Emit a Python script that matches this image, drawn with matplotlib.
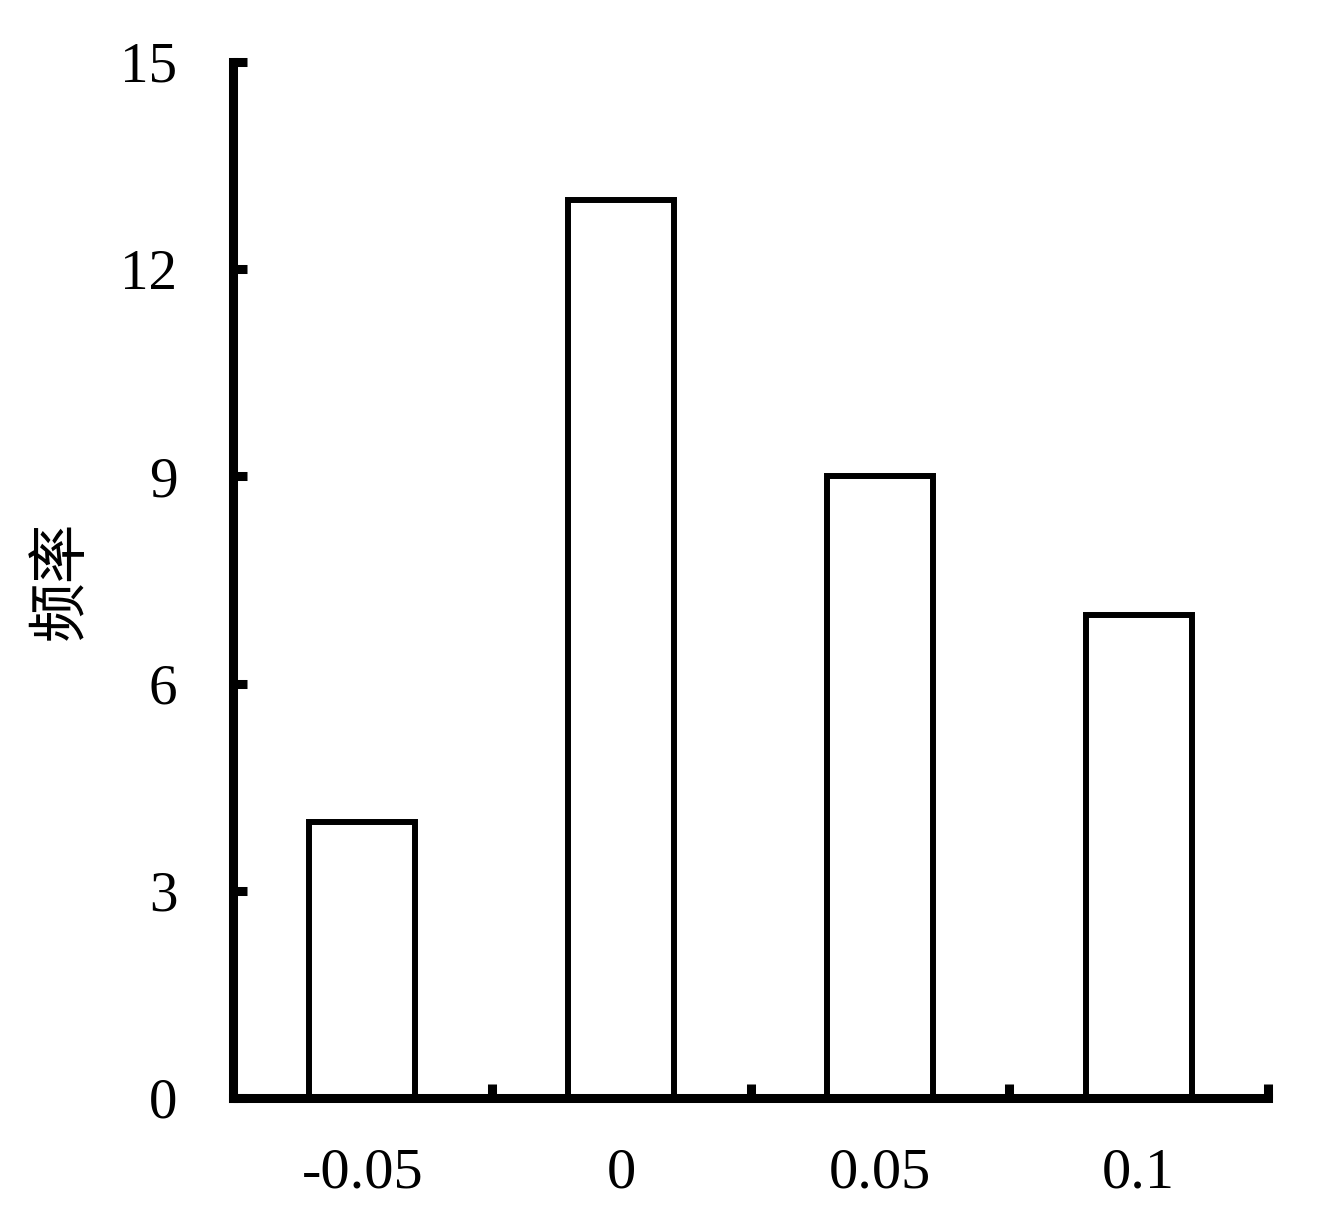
import matplotlib
matplotlib.use("Agg")
import matplotlib.pyplot as plt
import numpy as np

categories = ["-0.05", "0", "0.05", "0.1"]
values = [4, 13, 9, 7]
yticks = [0, 3, 6, 9, 12, 15]

fig = plt.figure(figsize=(13.18, 12.18), dpi=100)
ax = fig.add_axes([233/1318, 1 - 1098/1218, (1268-233)/1318, (1098-62)/1218])

x = np.arange(len(categories))
ax.bar(x, values, width=0.41, facecolor="white", edgecolor="black", linewidth=4.3, zorder=2)

ax.set_xlim(-0.5, len(categories) - 0.5)
ax.set_ylim(0, 15)
for s in ["top", "right"]:
    ax.spines[s].set_visible(False)
for s in ["left", "bottom"]:
    ax.spines[s].set_linewidth(6.5)
    ax.spines[s].set_zorder(3)
    ax.spines[s].set_capstyle("projecting")

ax.set_xticks(x)
ax.set_xticklabels(categories, fontfamily="Liberation Serif", fontsize=42)
ax.tick_params(axis="x", which="major", length=0, pad=36)
ax.set_xticks(x + 0.5, minor=True)
ax.tick_params(axis="x", which="minor", direction="in", length=10, width=6.5)

ax.set_yticks(yticks)
ax.set_yticklabels([str(v) for v in yticks], fontfamily="Liberation Serif", fontsize=41)
ax.tick_params(axis="y", direction="in", length=10, width=6.5, pad=40)

ax.set_ylabel("频率", fontfamily=["Noto Sans CJK SC", "DejaVu Sans"], fontsize=43,
              fontweight="medium")
ax.yaxis.set_label_coords(-141/1035, 0.5)

fig.savefig("out.png", dpi=100, facecolor="white")
